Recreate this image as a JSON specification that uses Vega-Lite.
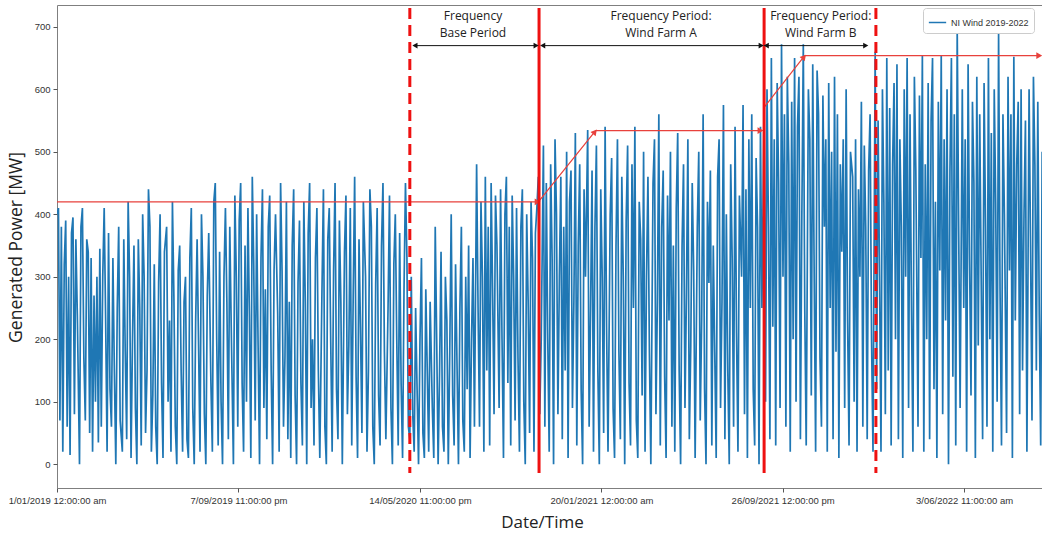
{
"$schema": "https://vega.github.io/schema/vega-lite/v6.json",
"width": 985, "height": 483,
"autosize": {"type": "none"},
"padding": {"left": 57, "top": 5, "right": 0, "bottom": 50},
"background": "white",
"config": {"view": {"stroke": "#7f7f7f", "strokeWidth": 1}},
"datasets": {
"wind": [
{"t":"2019-01-01","v":400},{"t":"2019-01-03","v":410},{"t":"2019-01-05","v":70},{"t":"2019-01-07","v":380},{"t":"2019-01-09","v":20},{"t":"2019-01-11","v":320},{"t":"2019-01-13","v":390},{"t":"2019-01-15","v":60},{"t":"2019-01-17","v":300},{"t":"2019-01-19","v":15},{"t":"2019-01-21","v":370},{"t":"2019-01-23","v":395},{"t":"2019-01-25","v":80},{"t":"2019-01-27","v":360},{"t":"2019-01-29","v":240},
{"t":"2019-02-01","v":0},{"t":"2019-02-03","v":380},{"t":"2019-02-05","v":410},{"t":"2019-02-07","v":170},{"t":"2019-02-09","v":70},{"t":"2019-02-11","v":360},{"t":"2019-02-13","v":340},{"t":"2019-02-15","v":50},{"t":"2019-02-17","v":330},{"t":"2019-02-19","v":20},{"t":"2019-02-21","v":270},{"t":"2019-02-23","v":100},{"t":"2019-02-25","v":300},{"t":"2019-02-27","v":35},
{"t":"2019-03-01","v":345},{"t":"2019-03-03","v":60},{"t":"2019-03-05","v":300},{"t":"2019-03-07","v":410},{"t":"2019-03-09","v":230},{"t":"2019-03-11","v":20},{"t":"2019-03-13","v":370},{"t":"2019-03-15","v":120},{"t":"2019-03-17","v":60},{"t":"2019-03-19","v":330},{"t":"2019-03-21","v":150},{"t":"2019-03-23","v":0},{"t":"2019-03-25","v":250},{"t":"2019-03-27","v":380},{"t":"2019-03-29","v":70},
{"t":"2019-04-01","v":20},{"t":"2019-04-03","v":360},{"t":"2019-04-05","v":180},{"t":"2019-04-07","v":40},{"t":"2019-04-09","v":420},{"t":"2019-04-11","v":300},{"t":"2019-04-13","v":10},{"t":"2019-04-15","v":200},{"t":"2019-04-17","v":350},{"t":"2019-04-19","v":90},{"t":"2019-04-21","v":0},{"t":"2019-04-23","v":360},{"t":"2019-04-25","v":250},{"t":"2019-04-27","v":30},{"t":"2019-04-29","v":400},
{"t":"2019-05-01","v":300},{"t":"2019-05-03","v":50},{"t":"2019-05-05","v":150},{"t":"2019-05-07","v":440},{"t":"2019-05-09","v":380},{"t":"2019-05-11","v":20},{"t":"2019-05-13","v":110},{"t":"2019-05-15","v":320},{"t":"2019-05-17","v":60},{"t":"2019-05-19","v":0},{"t":"2019-05-21","v":290},{"t":"2019-05-23","v":400},{"t":"2019-05-25","v":130},{"t":"2019-05-27","v":10},{"t":"2019-05-29","v":340},
{"t":"2019-06-01","v":380},{"t":"2019-06-03","v":100},{"t":"2019-06-05","v":230},{"t":"2019-06-07","v":20},{"t":"2019-06-09","v":420},{"t":"2019-06-11","v":270},{"t":"2019-06-13","v":60},{"t":"2019-06-15","v":0},{"t":"2019-06-17","v":310},{"t":"2019-06-19","v":350},{"t":"2019-06-21","v":150},{"t":"2019-06-23","v":20},{"t":"2019-06-25","v":260},{"t":"2019-06-27","v":300},{"t":"2019-06-29","v":40},
{"t":"2019-07-01","v":10},{"t":"2019-07-03","v":330},{"t":"2019-07-05","v":410},{"t":"2019-07-07","v":90},{"t":"2019-07-09","v":0},{"t":"2019-07-11","v":230},{"t":"2019-07-13","v":360},{"t":"2019-07-15","v":190},{"t":"2019-07-17","v":20},{"t":"2019-07-19","v":400},{"t":"2019-07-21","v":300},{"t":"2019-07-23","v":80},{"t":"2019-07-25","v":0},{"t":"2019-07-27","v":270},{"t":"2019-07-29","v":370},
{"t":"2019-08-01","v":130},{"t":"2019-08-03","v":20},{"t":"2019-08-05","v":420},{"t":"2019-08-07","v":450},{"t":"2019-08-09","v":200},{"t":"2019-08-11","v":30},{"t":"2019-08-13","v":340},{"t":"2019-08-15","v":100},{"t":"2019-08-17","v":0},{"t":"2019-08-19","v":300},{"t":"2019-08-21","v":410},{"t":"2019-08-23","v":260},{"t":"2019-08-25","v":40},{"t":"2019-08-27","v":380},{"t":"2019-08-29","v":220},
{"t":"2019-09-01","v":0},{"t":"2019-09-03","v":430},{"t":"2019-09-05","v":300},{"t":"2019-09-07","v":60},{"t":"2019-09-09","v":390},{"t":"2019-09-11","v":450},{"t":"2019-09-13","v":130},{"t":"2019-09-15","v":20},{"t":"2019-09-17","v":350},{"t":"2019-09-19","v":100},{"t":"2019-09-21","v":410},{"t":"2019-09-23","v":240},{"t":"2019-09-25","v":10},{"t":"2019-09-27","v":460},{"t":"2019-09-29","v":320},
{"t":"2019-10-01","v":70},{"t":"2019-10-03","v":400},{"t":"2019-10-05","v":190},{"t":"2019-10-07","v":0},{"t":"2019-10-09","v":330},{"t":"2019-10-11","v":440},{"t":"2019-10-13","v":90},{"t":"2019-10-15","v":280},{"t":"2019-10-17","v":40},{"t":"2019-10-19","v":380},{"t":"2019-10-21","v":430},{"t":"2019-10-23","v":150},{"t":"2019-10-25","v":0},{"t":"2019-10-27","v":310},{"t":"2019-10-29","v":400},
{"t":"2019-11-01","v":240},{"t":"2019-11-03","v":20},{"t":"2019-11-05","v":450},{"t":"2019-11-07","v":310},{"t":"2019-11-09","v":60},{"t":"2019-11-11","v":170},{"t":"2019-11-13","v":420},{"t":"2019-11-15","v":40},{"t":"2019-11-17","v":260},{"t":"2019-11-19","v":10},{"t":"2019-11-21","v":350},{"t":"2019-11-23","v":440},{"t":"2019-11-25","v":110},{"t":"2019-11-27","v":0},{"t":"2019-11-29","v":290},
{"t":"2019-12-01","v":390},{"t":"2019-12-03","v":130},{"t":"2019-12-05","v":30},{"t":"2019-12-07","v":420},{"t":"2019-12-09","v":260},{"t":"2019-12-11","v":0},{"t":"2019-12-13","v":370},{"t":"2019-12-15","v":450},{"t":"2019-12-17","v":90},{"t":"2019-12-19","v":200},{"t":"2019-12-21","v":30},{"t":"2019-12-23","v":330},{"t":"2019-12-25","v":410},{"t":"2019-12-27","v":150},{"t":"2019-12-29","v":10},
{"t":"2020-01-01","v":280},{"t":"2020-01-03","v":440},{"t":"2020-01-05","v":60},{"t":"2020-01-07","v":0},{"t":"2020-01-09","v":360},{"t":"2020-01-11","v":410},{"t":"2020-01-13","v":200},{"t":"2020-01-15","v":20},{"t":"2020-01-17","v":310},{"t":"2020-01-19","v":450},{"t":"2020-01-21","v":120},{"t":"2020-01-23","v":40},{"t":"2020-01-25","v":390},{"t":"2020-01-27","v":260},{"t":"2020-01-29","v":0},
{"t":"2020-02-01","v":340},{"t":"2020-02-03","v":430},{"t":"2020-02-05","v":80},{"t":"2020-02-07","v":190},{"t":"2020-02-09","v":410},{"t":"2020-02-11","v":30},{"t":"2020-02-13","v":270},{"t":"2020-02-15","v":460},{"t":"2020-02-17","v":140},{"t":"2020-02-19","v":10},{"t":"2020-02-21","v":360},{"t":"2020-02-23","v":220},{"t":"2020-02-25","v":50},{"t":"2020-02-27","v":420},
{"t":"2020-03-01","v":300},{"t":"2020-03-03","v":20},{"t":"2020-03-05","v":150},{"t":"2020-03-07","v":440},{"t":"2020-03-09","v":380},{"t":"2020-03-11","v":60},{"t":"2020-03-13","v":0},{"t":"2020-03-15","v":290},{"t":"2020-03-17","v":410},{"t":"2020-03-19","v":110},{"t":"2020-03-21","v":30},{"t":"2020-03-23","v":350},{"t":"2020-03-25","v":450},{"t":"2020-03-27","v":180},{"t":"2020-03-29","v":40},
{"t":"2020-04-01","v":250},{"t":"2020-04-03","v":430},{"t":"2020-04-05","v":90},{"t":"2020-04-07","v":0},{"t":"2020-04-09","v":320},{"t":"2020-04-11","v":400},{"t":"2020-04-13","v":200},{"t":"2020-04-15","v":30},{"t":"2020-04-17","v":370},{"t":"2020-04-19","v":130},{"t":"2020-04-21","v":10},{"t":"2020-04-23","v":280},{"t":"2020-04-25","v":450},{"t":"2020-04-27","v":330},{"t":"2020-04-29","v":60},
{"t":"2020-05-01","v":40},{"t":"2020-05-03","v":300},{"t":"2020-05-05","v":80},{"t":"2020-05-07","v":20},{"t":"2020-05-09","v":250},{"t":"2020-05-11","v":120},{"t":"2020-05-13","v":0},{"t":"2020-05-15","v":200},{"t":"2020-05-17","v":330},{"t":"2020-05-19","v":50},{"t":"2020-05-21","v":10},{"t":"2020-05-23","v":280},{"t":"2020-05-25","v":150},{"t":"2020-05-27","v":20},{"t":"2020-05-29","v":260},
{"t":"2020-06-01","v":90},{"t":"2020-06-03","v":10},{"t":"2020-06-05","v":380},{"t":"2020-06-07","v":200},{"t":"2020-06-09","v":0},{"t":"2020-06-11","v":150},{"t":"2020-06-13","v":340},{"t":"2020-06-15","v":60},{"t":"2020-06-17","v":20},{"t":"2020-06-19","v":300},{"t":"2020-06-21","v":230},{"t":"2020-06-23","v":0},{"t":"2020-06-25","v":180},{"t":"2020-06-27","v":400},{"t":"2020-06-29","v":110},
{"t":"2020-07-01","v":30},{"t":"2020-07-03","v":320},{"t":"2020-07-05","v":160},{"t":"2020-07-07","v":0},{"t":"2020-07-09","v":250},{"t":"2020-07-11","v":380},{"t":"2020-07-13","v":70},{"t":"2020-07-15","v":20},{"t":"2020-07-17","v":300},{"t":"2020-07-19","v":120},{"t":"2020-07-21","v":350},{"t":"2020-07-23","v":10},{"t":"2020-07-25","v":200},{"t":"2020-07-27","v":330},{"t":"2020-07-29","v":60},
{"t":"2020-08-01","v":480},{"t":"2020-08-03","v":250},{"t":"2020-08-05","v":60},{"t":"2020-08-07","v":420},{"t":"2020-08-09","v":300},{"t":"2020-08-11","v":20},{"t":"2020-08-13","v":460},{"t":"2020-08-15","v":150},{"t":"2020-08-17","v":380},{"t":"2020-08-19","v":30},{"t":"2020-08-21","v":450},{"t":"2020-08-23","v":280},{"t":"2020-08-25","v":80},{"t":"2020-08-27","v":430},{"t":"2020-08-29","v":350},
{"t":"2020-09-01","v":90},{"t":"2020-09-03","v":440},{"t":"2020-09-05","v":200},{"t":"2020-09-07","v":10},{"t":"2020-09-09","v":400},{"t":"2020-09-11","v":460},{"t":"2020-09-13","v":130},{"t":"2020-09-15","v":380},{"t":"2020-09-17","v":30},{"t":"2020-09-19","v":430},{"t":"2020-09-21","v":300},{"t":"2020-09-23","v":70},{"t":"2020-09-25","v":410},{"t":"2020-09-27","v":170},{"t":"2020-09-29","v":20},
{"t":"2020-10-01","v":380},{"t":"2020-10-03","v":440},{"t":"2020-10-05","v":100},{"t":"2020-10-07","v":0},{"t":"2020-10-09","v":400},{"t":"2020-10-11","v":260},{"t":"2020-10-13","v":50},{"t":"2020-10-15","v":420},{"t":"2020-10-17","v":330},{"t":"2020-10-19","v":20},{"t":"2020-10-21","v":370},{"t":"2020-10-23","v":410},{"t":"2020-10-25","v":460},{"t":"2020-10-27","v":80},{"t":"2020-10-29","v":200},
{"t":"2020-11-01","v":510},{"t":"2020-11-03","v":60},{"t":"2020-11-05","v":450},{"t":"2020-11-07","v":200},{"t":"2020-11-09","v":20},{"t":"2020-11-11","v":480},{"t":"2020-11-13","v":330},{"t":"2020-11-15","v":0},{"t":"2020-11-17","v":520},{"t":"2020-11-19","v":400},{"t":"2020-11-21","v":80},{"t":"2020-11-23","v":300},{"t":"2020-11-25","v":460},{"t":"2020-11-27","v":40},{"t":"2020-11-29","v":380},
{"t":"2020-12-01","v":150},{"t":"2020-12-03","v":500},{"t":"2020-12-05","v":10},{"t":"2020-12-07","v":420},{"t":"2020-12-09","v":470},{"t":"2020-12-11","v":90},{"t":"2020-12-13","v":260},{"t":"2020-12-15","v":530},{"t":"2020-12-17","v":30},{"t":"2020-12-19","v":350},{"t":"2020-12-21","v":480},{"t":"2020-12-23","v":120},{"t":"2020-12-25","v":0},{"t":"2020-12-27","v":440},{"t":"2020-12-29","v":300},
{"t":"2021-01-01","v":535},{"t":"2021-01-03","v":60},{"t":"2021-01-05","v":250},{"t":"2021-01-07","v":470},{"t":"2021-01-09","v":20},{"t":"2021-01-11","v":380},{"t":"2021-01-13","v":510},{"t":"2021-01-15","v":150},{"t":"2021-01-17","v":0},{"t":"2021-01-19","v":440},{"t":"2021-01-21","v":300},{"t":"2021-01-23","v":50},{"t":"2021-01-25","v":540},{"t":"2021-01-27","v":220},{"t":"2021-01-29","v":20},
{"t":"2021-02-01","v":400},{"t":"2021-02-03","v":490},{"t":"2021-02-05","v":90},{"t":"2021-02-07","v":10},{"t":"2021-02-09","v":350},{"t":"2021-02-11","v":520},{"t":"2021-02-13","v":180},{"t":"2021-02-15","v":40},{"t":"2021-02-17","v":460},{"t":"2021-02-19","v":300},{"t":"2021-02-21","v":0},{"t":"2021-02-23","v":390},{"t":"2021-02-25","v":510},{"t":"2021-02-27","v":130},
{"t":"2021-03-01","v":30},{"t":"2021-03-03","v":480},{"t":"2021-03-05","v":250},{"t":"2021-03-07","v":540},{"t":"2021-03-09","v":70},{"t":"2021-03-11","v":10},{"t":"2021-03-13","v":420},{"t":"2021-03-15","v":360},{"t":"2021-03-17","v":110},{"t":"2021-03-19","v":500},{"t":"2021-03-21","v":20},{"t":"2021-03-23","v":300},{"t":"2021-03-25","v":460},{"t":"2021-03-27","v":180},{"t":"2021-03-29","v":0},
{"t":"2021-04-01","v":450},{"t":"2021-04-03","v":520},{"t":"2021-04-05","v":80},{"t":"2021-04-07","v":260},{"t":"2021-04-09","v":560},{"t":"2021-04-11","v":30},{"t":"2021-04-13","v":380},{"t":"2021-04-15","v":470},{"t":"2021-04-17","v":140},{"t":"2021-04-19","v":10},{"t":"2021-04-21","v":430},{"t":"2021-04-23","v":230},{"t":"2021-04-25","v":500},{"t":"2021-04-27","v":60},{"t":"2021-04-29","v":350},
{"t":"2021-05-01","v":20},{"t":"2021-05-03","v":410},{"t":"2021-05-05","v":530},{"t":"2021-05-07","v":150},{"t":"2021-05-09","v":0},{"t":"2021-05-11","v":350},{"t":"2021-05-13","v":480},{"t":"2021-05-15","v":90},{"t":"2021-05-17","v":270},{"t":"2021-05-19","v":520},{"t":"2021-05-21","v":40},{"t":"2021-05-23","v":190},{"t":"2021-05-25","v":450},{"t":"2021-05-27","v":310},{"t":"2021-05-29","v":10},
{"t":"2021-06-01","v":380},{"t":"2021-06-03","v":500},{"t":"2021-06-05","v":70},{"t":"2021-06-07","v":230},{"t":"2021-06-09","v":560},{"t":"2021-06-11","v":120},{"t":"2021-06-13","v":0},{"t":"2021-06-15","v":420},{"t":"2021-06-17","v":290},{"t":"2021-06-19","v":470},{"t":"2021-06-21","v":30},{"t":"2021-06-23","v":350},{"t":"2021-06-25","v":180},{"t":"2021-06-27","v":10},{"t":"2021-06-29","v":460},
{"t":"2021-07-01","v":520},{"t":"2021-07-03","v":90},{"t":"2021-07-05","v":260},{"t":"2021-07-07","v":575},{"t":"2021-07-09","v":40},{"t":"2021-07-11","v":400},{"t":"2021-07-13","v":150},{"t":"2021-07-15","v":0},{"t":"2021-07-17","v":480},{"t":"2021-07-19","v":330},{"t":"2021-07-21","v":60},{"t":"2021-07-23","v":540},{"t":"2021-07-25","v":210},{"t":"2021-07-27","v":20},{"t":"2021-07-29","v":430},
{"t":"2021-08-01","v":300},{"t":"2021-08-03","v":575},{"t":"2021-08-05","v":80},{"t":"2021-08-07","v":440},{"t":"2021-08-09","v":10},{"t":"2021-08-11","v":520},{"t":"2021-08-13","v":250},{"t":"2021-08-15","v":560},{"t":"2021-08-17","v":120},{"t":"2021-08-19","v":30},{"t":"2021-08-21","v":490},{"t":"2021-08-23","v":380},{"t":"2021-08-25","v":0},{"t":"2021-08-27","v":540},{"t":"2021-08-29","v":250},
{"t":"2021-09-01","v":570},{"t":"2021-09-03","v":100},{"t":"2021-09-05","v":600},{"t":"2021-09-07","v":380},{"t":"2021-09-09","v":40},{"t":"2021-09-11","v":650},{"t":"2021-09-13","v":220},{"t":"2021-09-15","v":520},{"t":"2021-09-17","v":30},{"t":"2021-09-19","v":610},{"t":"2021-09-21","v":450},{"t":"2021-09-23","v":90},{"t":"2021-09-25","v":672},{"t":"2021-09-27","v":300},{"t":"2021-09-29","v":560},
{"t":"2021-10-01","v":60},{"t":"2021-10-03","v":620},{"t":"2021-10-05","v":480},{"t":"2021-10-07","v":20},{"t":"2021-10-09","v":580},{"t":"2021-10-11","v":200},{"t":"2021-10-13","v":650},{"t":"2021-10-15","v":100},{"t":"2021-10-17","v":540},{"t":"2021-10-19","v":620},{"t":"2021-10-21","v":40},{"t":"2021-10-23","v":400},{"t":"2021-10-25","v":672},{"t":"2021-10-27","v":250},{"t":"2021-10-29","v":30},
{"t":"2021-11-01","v":600},{"t":"2021-11-03","v":520},{"t":"2021-11-05","v":110},{"t":"2021-11-07","v":640},{"t":"2021-11-09","v":300},{"t":"2021-11-11","v":20},{"t":"2021-11-13","v":630},{"t":"2021-11-15","v":560},{"t":"2021-11-17","v":170},{"t":"2021-11-19","v":60},{"t":"2021-11-21","v":590},{"t":"2021-11-23","v":380},{"t":"2021-11-25","v":520},{"t":"2021-11-27","v":20},{"t":"2021-11-29","v":610},
{"t":"2021-12-01","v":250},{"t":"2021-12-03","v":500},{"t":"2021-12-05","v":40},{"t":"2021-12-07","v":620},{"t":"2021-12-09","v":180},{"t":"2021-12-11","v":560},{"t":"2021-12-13","v":10},{"t":"2021-12-15","v":480},{"t":"2021-12-17","v":340},{"t":"2021-12-19","v":520},{"t":"2021-12-21","v":90},{"t":"2021-12-23","v":600},{"t":"2021-12-25","v":230},{"t":"2021-12-27","v":30},{"t":"2021-12-29","v":500},
{"t":"2022-01-01","v":460},{"t":"2022-01-03","v":100},{"t":"2022-01-05","v":520},{"t":"2022-01-07","v":20},{"t":"2022-01-09","v":440},{"t":"2022-01-11","v":300},{"t":"2022-01-13","v":580},{"t":"2022-01-15","v":60},{"t":"2022-01-17","v":510},{"t":"2022-01-19","v":380},{"t":"2022-01-21","v":40},{"t":"2022-01-23","v":470},{"t":"2022-01-25","v":560},{"t":"2022-01-27","v":200},{"t":"2022-01-29","v":20},
{"t":"2022-02-01","v":660},{"t":"2022-02-03","v":120},{"t":"2022-02-05","v":550},{"t":"2022-02-07","v":300},{"t":"2022-02-09","v":20},{"t":"2022-02-11","v":600},{"t":"2022-02-13","v":420},{"t":"2022-02-15","v":80},{"t":"2022-02-17","v":650},{"t":"2022-02-19","v":150},{"t":"2022-02-21","v":570},{"t":"2022-02-23","v":30},{"t":"2022-02-25","v":480},{"t":"2022-02-27","v":610},
{"t":"2022-03-01","v":200},{"t":"2022-03-03","v":640},{"t":"2022-03-05","v":40},{"t":"2022-03-07","v":520},{"t":"2022-03-09","v":380},{"t":"2022-03-11","v":10},{"t":"2022-03-13","v":600},{"t":"2022-03-15","v":300},{"t":"2022-03-17","v":650},{"t":"2022-03-19","v":90},{"t":"2022-03-21","v":560},{"t":"2022-03-23","v":250},{"t":"2022-03-25","v":20},{"t":"2022-03-27","v":620},{"t":"2022-03-29","v":470},
{"t":"2022-04-01","v":60},{"t":"2022-04-03","v":590},{"t":"2022-04-05","v":330},{"t":"2022-04-07","v":655},{"t":"2022-04-09","v":20},{"t":"2022-04-11","v":480},{"t":"2022-04-13","v":200},{"t":"2022-04-15","v":610},{"t":"2022-04-17","v":40},{"t":"2022-04-19","v":550},{"t":"2022-04-21","v":650},{"t":"2022-04-23","v":120},{"t":"2022-04-25","v":420},{"t":"2022-04-27","v":10},{"t":"2022-04-29","v":580},
{"t":"2022-05-01","v":310},{"t":"2022-05-03","v":655},{"t":"2022-05-05","v":80},{"t":"2022-05-07","v":520},{"t":"2022-05-09","v":230},{"t":"2022-05-11","v":600},{"t":"2022-05-13","v":0},{"t":"2022-05-15","v":470},{"t":"2022-05-17","v":650},{"t":"2022-05-19","v":140},{"t":"2022-05-21","v":560},{"t":"2022-05-23","v":30},{"t":"2022-05-25","v":697},{"t":"2022-05-27","v":380},{"t":"2022-05-29","v":90},
{"t":"2022-06-01","v":600},{"t":"2022-06-03","v":250},{"t":"2022-06-05","v":520},{"t":"2022-06-07","v":20},{"t":"2022-06-09","v":640},{"t":"2022-06-11","v":330},{"t":"2022-06-13","v":110},{"t":"2022-06-15","v":580},{"t":"2022-06-17","v":450},{"t":"2022-06-19","v":10},{"t":"2022-06-21","v":620},{"t":"2022-06-23","v":190},{"t":"2022-06-25","v":560},{"t":"2022-06-27","v":300},{"t":"2022-06-29","v":40},
{"t":"2022-07-01","v":610},{"t":"2022-07-03","v":380},{"t":"2022-07-05","v":60},{"t":"2022-07-07","v":650},{"t":"2022-07-09","v":200},{"t":"2022-07-11","v":530},{"t":"2022-07-13","v":20},{"t":"2022-07-15","v":600},{"t":"2022-07-17","v":420},{"t":"2022-07-19","v":100},{"t":"2022-07-21","v":690},{"t":"2022-07-23","v":280},{"t":"2022-07-25","v":30},{"t":"2022-07-27","v":560},{"t":"2022-07-29","v":400},
{"t":"2022-08-01","v":50},{"t":"2022-08-03","v":620},{"t":"2022-08-05","v":310},{"t":"2022-08-07","v":560},{"t":"2022-08-09","v":10},{"t":"2022-08-11","v":652},{"t":"2022-08-13","v":230},{"t":"2022-08-15","v":480},{"t":"2022-08-17","v":580},{"t":"2022-08-19","v":80},{"t":"2022-08-21","v":600},{"t":"2022-08-23","v":150},{"t":"2022-08-25","v":400},{"t":"2022-08-27","v":550},{"t":"2022-08-29","v":20},
{"t":"2022-09-01","v":600},{"t":"2022-09-03","v":350},{"t":"2022-09-05","v":70},{"t":"2022-09-07","v":620},{"t":"2022-09-09","v":480},{"t":"2022-09-11","v":150},{"t":"2022-09-13","v":580},{"t":"2022-09-15","v":240},{"t":"2022-09-17","v":30},{"t":"2022-09-19","v":500}
],
"step": [
{"t":"2019-01-01","v":420,"seg":"a"},{"t":"2020-10-25","v":420,"seg":"a"},{"t":"2021-01-12","v":534,"seg":"a"},{"t":"2021-08-28","v":534,"seg":"a"},
{"t":"2021-09-01","v":571,"seg":"b"},{"t":"2021-10-27","v":654,"seg":"b"},{"t":"2022-09-16","v":654,"seg":"b"}
],
"heads": [
{"t":"2020-10-24","v":420,"dir":"right"},{"t":"2021-01-11","v":532,"dir":"diag"},{"t":"2021-08-27","v":534,"dir":"right"},{"t":"2021-10-26","v":652,"dir":"diag"},{"t":"2022-09-15","v":654,"dir":"right"}
],
"vlines": [
{"t":"2020-05-01","kind":"dashed"},{"t":"2020-10-26","kind":"solid"},{"t":"2021-09-01","kind":"solid"},{"t":"2022-02-02","kind":"dashed"}
],
"spans": [
{"t":"2020-05-08","t2":"2020-10-22"},{"t":"2020-10-31","t2":"2021-08-28"},{"t":"2021-09-04","t2":"2022-01-19"}
],
"notes": [
{"t":"2020-07-27","v":718,"label":"Frequency"},{"t":"2020-07-27","v":690,"label":"Base Period"},
{"t":"2021-04-12","v":718,"label":"Frequency Period:"},{"t":"2021-04-12","v":690,"label":"Wind Farm A"},
{"t":"2021-11-18","v":718,"label":"Frequency Period:"},{"t":"2021-11-18","v":690,"label":"Wind Farm B"}
]
},
"layer": [
{
"data": {"name": "wind"},
"mark": {"type": "line", "strokeWidth": 1.7, "clip": true},
"encoding": {
"x": {"field": "t", "type": "temporal",
"scale": {"type": "utc", "domain": [{"year": 2019, "month": 1, "date": 1, "utc": true}, {"year": 2022, "month": 9, "date": 18, "hours": 19, "utc": true}], "nice": false},
"axis": {"title": "Date/Time", "grid": false, "domain": false,
"values": [{"year": 2019, "month": 1, "date": 1, "utc": true}, {"year": 2019, "month": 9, "date": 7, "hours": 23, "utc": true}, {"year": 2020, "month": 5, "date": 14, "hours": 23, "utc": true}, {"year": 2021, "month": 1, "date": 20, "utc": true}, {"year": 2021, "month": 9, "date": 26, "hours": 12, "utc": true}, {"year": 2022, "month": 6, "date": 3, "hours": 11, "utc": true}],
"labelExpr": "lower(utcFormat(datum.value, '%-d/%m/%Y %-I:%M:%S %p'))",
"labelFont": "Liberation Sans", "labelFontSize": 9.5, "labelColor": "#333333",
"labelOverlap": false, "labelFlush": false, "labelBound": false, "labelPadding": 3,
"tickColor": "#555555", "tickSize": 4,
"titleFont": "Open Sans", "titleFontSize": 17, "titleFontWeight": "normal", "titleColor": "#222222",
"titleX": 485, "titleY": 34, "titleBaseline": "middle", "titleAlign": "center"}},
"y": {"field": "v", "type": "quantitative",
"scale": {"domain": [-38, 735], "nice": false, "zero": false},
"axis": {"title": "Generated Power [MW]", "grid": false, "domain": false,
"values": [0, 100, 200, 300, 400, 500, 600, 700],
"labelFont": "Liberation Sans", "labelFontSize": 9.5, "labelColor": "#333333", "labelPadding": 3,
"tickColor": "#555555", "tickSize": 4,
"titleFont": "Open Sans", "titleFontSize": 17.5, "titleFontWeight": "normal", "titleColor": "#222222",
"titleX": -41, "titleY": 242, "titleAngle": 270, "titleBaseline": "middle", "titleAlign": "center"}},
"color": {"datum": "NI Wind 2019-2022", "scale": {"range": ["#1f77b4"]},
"legend": {"title": null, "orient": "none", "legendX": 866, "legendY": 3, "symbolType": "stroke", "symbolStrokeWidth": 1.5, "symbolSize": 300,
"labelFont": "Liberation Sans", "labelFontSize": 9, "labelColor": "#333333", "strokeColor": "#cccccc", "fillColor": "white", "padding": 5, "cornerRadius": 3}}
}
},
{
"data": {"name": "step"},
"mark": {"type": "line", "color": "#e8413c", "strokeWidth": 1.2},
"encoding": {"x": {"field": "t", "type": "temporal"}, "y": {"field": "v", "type": "quantitative"}, "detail": {"field": "seg"}}
},
{
"data": {"name": "heads"},
"transform": [{"filter": "datum.dir == 'right'"}],
"mark": {"type": "point", "shape": "triangle-right", "filled": true, "color": "#e8413c", "size": 45, "opacity": 1},
"encoding": {"x": {"field": "t", "type": "temporal"}, "y": {"field": "v", "type": "quantitative"}}
},
{
"data": {"name": "heads"},
"transform": [{"filter": "datum.dir == 'diag'"}],
"mark": {"type": "point", "shape": "triangle-right", "filled": true, "color": "#e8413c", "size": 45, "angle": 310, "opacity": 1},
"encoding": {"x": {"field": "t", "type": "temporal"}, "y": {"field": "v", "type": "quantitative"}}
},
{
"data": {"name": "vlines"},
"mark": {"type": "rule", "color": "#ee1111", "strokeWidth": 3},
"encoding": {"x": {"field": "t", "type": "temporal"}, "y": {"datum": 730}, "y2": {"datum": -14},
"strokeDash": {"field": "kind", "type": "nominal", "scale": {"domain": ["dashed", "solid"], "range": [[11, 6], [1, 0]]}, "legend": null}}
},
{
"data": {"name": "spans"},
"mark": {"type": "rule", "color": "#111111", "strokeWidth": 1},
"encoding": {"x": {"field": "t", "type": "temporal"}, "x2": {"field": "t2"}, "y": {"datum": 670}}
},
{
"data": {"name": "spans"},
"mark": {"type": "point", "shape": "triangle-left", "filled": true, "color": "#111111", "size": 35, "opacity": 1},
"encoding": {"x": {"field": "t", "type": "temporal"}, "y": {"datum": 670}}
},
{
"data": {"name": "spans"},
"mark": {"type": "point", "shape": "triangle-right", "filled": true, "color": "#111111", "size": 35, "opacity": 1},
"encoding": {"x": {"field": "t2", "type": "temporal"}, "y": {"datum": 670}}
},
{
"data": {"name": "notes"},
"mark": {"type": "text", "font": "Open Sans", "fontSize": 12, "color": "#222222", "align": "center", "baseline": "middle"},
"encoding": {"x": {"field": "t", "type": "temporal"}, "y": {"field": "v", "type": "quantitative"}, "text": {"field": "label"}}
}
]
}
